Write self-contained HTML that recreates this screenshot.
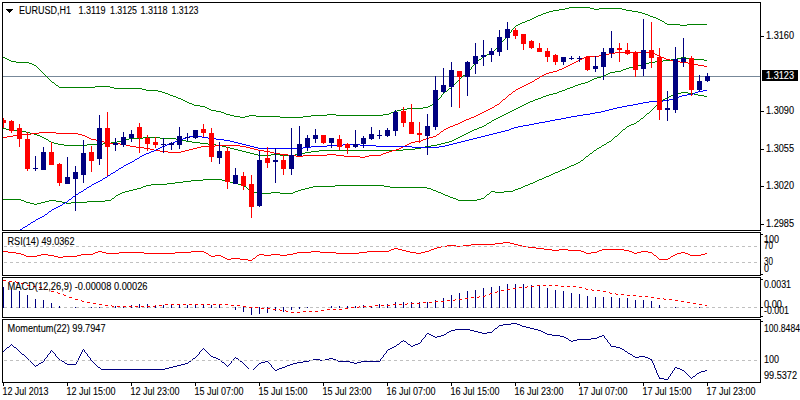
<!DOCTYPE html>
<html><head><meta charset="utf-8"><style>
html,body{margin:0;padding:0;background:#fff;overflow:hidden;}
svg{display:block;}
text{font-family:"Liberation Sans",sans-serif;}
</style></head><body>
<svg width="800" height="400" viewBox="0 0 800 400" shape-rendering="crispEdges">
<svg x="0" y="0" width="800" height="400">
<clipPath id="cm"><rect x="3" y="3" width="757" height="227"/></clipPath>
<g clip-path="url(#cm)">
<line x1="3" y1="76.5" x2="760" y2="76.5" stroke="#778899"/>
<path d="M240 117.5h5M280 117.5h23M224 113.5h2M389 113.5h2M56 85.5h2M142 89.5h4M95 86.5h15M518 24.5h2M667 24.5h13M687 24.5h20M532 18.5h2M656 18.5h2M158 91.5h4M445 91.5h2M569 7.5h21M114 88.5h28M449 88.5h2M553 10.5h6M626 10.5h6M546 12.5h3M638 12.5h4M234 116.5h6M245 116.5h4M256 116.5h24M303 116.5h8M59 87.5h36M110 87.5h4M146 90.5h12M194 105.5h6M430 105.5h2M207 108.5h2M407 108.5h16M485 55.5h2M216 111.5h5M394 111.5h3M230 115.5h4M249 115.5h7M311 115.5h16M336 115.5h47M34 65.5h2M221 112.5h3M391 112.5h3M527 20.5h3M660 20.5h2M16 62.5h13M189 103.5h3M434 103.5h2M522 22.5h3M29 63.5h3M565 8.5h4M590 8.5h4M599 8.5h23M549 11.5h4M632 11.5h6M32 64.5h2M516 25.5h2M680 25.5h7M209 109.5h2M401 109.5h6M559 9.5h6M594 9.5h5M622 9.5h4M226 114.5h4M327 114.5h9M383 114.5h6M200 106.5h5M428 106.5h2M487 54.5h3M173 96.5h3M538 15.5h3M648 15.5h2M463 75.5h2M162 92.5h3M205 107.5h2M423 107.5h5M543 13.5h3M642 13.5h3M483 56.5h2M170 95.5h3M211 110.5h5M397 110.5h4M192 104.5h2M432 104.5h2M5 58.5h2M525 21.5h2M662 21.5h2M534 17.5h2M653 17.5h3M185 101.5h2M176 97.5h2M178 98.5h3M530 19.5h2M658 19.5h2M181 99.5h2M11 61.5h5M3 57.5h2M165 93.5h3M520 23.5h2M665 23.5h2M490 53.5h2M7 59.5h2M479 59.5h2M536 16.5h2M650 16.5h3M541 14.5h2M645 14.5h3M9 60.5h2M52 82.5h2M168 94.5h2M187 102.5h2M183 100.5h2M501.5 42v2M503.5 40v1M504.5 39v1M506.5 36v1M453.5 85v1M461.5 77v1M55.5 84v1M500.5 44v1M502.5 41v1M58.5 86v1M447.5 90v1M498.5 46v1M514.5 27v1M510.5 32v1M512.5 29v1M513.5 28v1M40.5 70v1M36.5 66v1M508.5 34v1M511.5 30v2M471.5 67v2M494.5 50v1M467.5 72v1M468.5 71v1M37.5 67v1M54.5 83v1M47.5 77v1M465.5 74v1M466.5 73v1M436.5 102v1M43.5 73v1M38.5 68v1M39.5 69v1M451.5 87v1M459.5 79v1M457.5 81v1M44.5 74v1M496.5 48v1M497.5 47v1M472.5 66v1M45.5 75v1M495.5 49v1M41.5 71v1M51.5 81v1M441.5 95v2M477.5 61v1M478.5 60v1M437.5 100v2M440.5 97v1M42.5 72v1M505.5 37v2M460.5 78v1M48.5 78v1M458.5 80v1M456.5 82v1M49.5 79v1M444.5 92v1M50.5 80v1M46.5 76v1M482.5 57v1M448.5 89v1M454.5 84v1M443.5 93v1M493.5 51v1M515.5 26v1M481.5 58v1M452.5 86v1M439.5 98v1M476.5 62v1M442.5 94v1M492.5 52v1M499.5 45v1M438.5 99v1M474.5 64v1M475.5 63v1M470.5 69v1M473.5 65v1M469.5 70v1M509.5 33v1M507.5 35v1M455.5 83v1M664.5 22v1M462.5 76v1" fill="none" stroke="#008000" stroke-width="1"/>
<path d="M258 155.5h13M280 155.5h15M54 143.5h4M103 143.5h8M200 143.5h8M441 143.5h4M482 126.5h2M677 58.5h4M686 58.5h4M3 128.5h3M477 128.5h2M51 142.5h3M111 142.5h6M192 142.5h8M445 142.5h4M58 144.5h6M87 144.5h16M208 144.5h8M437 144.5h4M242 151.5h4M311 151.5h8M44 138.5h2M129 138.5h14M160 138.5h16M456 138.5h2M238 150.5h4M319 150.5h84M254 154.5h4M271 154.5h9M295 154.5h6M230 148.5h4M415 148.5h6M42 137.5h2M143 137.5h17M458 137.5h2M538 98.5h3M594 78.5h3M46 139.5h2M125 139.5h4M176 139.5h6M454 139.5h2M37 135.5h3M462 135.5h2M570 87.5h3M6 129.5h4M474 129.5h3M64 145.5h23M216 145.5h6M431 145.5h6M10 130.5h12M472 130.5h2M514 109.5h2M40 136.5h2M460 136.5h2M578 84.5h3M49 141.5h2M117 141.5h4M186 141.5h6M449 141.5h3M250 153.5h4M301 153.5h4M234 149.5h4M403 149.5h12M549 94.5h4M22 131.5h4M470 131.5h2M671 59.5h6M690 59.5h14M520 106.5h2M226 147.5h4M421 147.5h4M528 102.5h2M246 152.5h4M305 152.5h6M615 71.5h6M633 66.5h4M524 104.5h2M567 88.5h3M496 118.5h2M590 80.5h2M562 90.5h3M623 69.5h3M26 132.5h4M468 132.5h2M573 86.5h2M601 76.5h3M681 57.5h5M516 108.5h2M222 146.5h4M425 146.5h6M655 61.5h8M585 82.5h3M535 99.5h3M492 120.5h2M479 127.5h3M484 125.5h2M641 64.5h4M565 89.5h2M121 140.5h4M182 140.5h4M452 140.5h2M512 110.5h2M649 62.5h6M546 95.5h3M629 67.5h4M663 60.5h8M704 60.5h3M526 103.5h2M30 133.5h4M466 133.5h2M530 101.5h3M553 93.5h4M489 122.5h2M608 73.5h2M522 105.5h2M575 85.5h3M592 79.5h2M559 91.5h3M508 112.5h2M621 70.5h2M504 114.5h2M581 83.5h4M645 63.5h4M626 68.5h3M604 75.5h2M518 107.5h2M588 81.5h2M487 123.5h2M34 134.5h3M464 134.5h2M500 116.5h2M543 96.5h3M506 113.5h2M597 77.5h4M610 72.5h5M510 111.5h2M533 100.5h2M557 92.5h2M502 115.5h2M606 74.5h2M637 65.5h4M498 117.5h2M541 97.5h2M494 119.5h2M491.5 121v1M48.5 140v1M486.5 124v1" fill="none" stroke="#008000" stroke-width="1"/>
<path d="M151 184.5h16M238 184.5h4M528 184.5h2M30 203.5h4M37 203.5h4M66 203.5h5M21 200.5h3M49 200.5h7M105 200.5h6M458 200.5h19M143 186.5h3M244 186.5h2M313 186.5h22M384 186.5h6M523 186.5h2M146 185.5h5M242 185.5h2M335 185.5h49M525 185.5h3M203 179.5h19M539 179.5h3M450 197.5h3M602 145.5h2M141 187.5h2M309 187.5h4M390 187.5h37M521 187.5h2M191 180.5h12M222 180.5h4M537 180.5h2M26 202.5h4M41 202.5h4M62 202.5h4M71 202.5h16M122 192.5h3M254 192.5h4M271 192.5h9M293 192.5h2M438 192.5h3M495 192.5h9M549 175.5h2M24 201.5h2M45 201.5h4M56 201.5h6M87 201.5h18M3 199.5h18M456 199.5h2M477 199.5h4M674 94.5h3M694 94.5h4M665 98.5h2M118 194.5h2M443 194.5h2M487 194.5h2M34 204.5h3M167 183.5h8M234 183.5h4M530 183.5h3M560 170.5h2M681 92.5h7M637 121.5h2M594 150.5h2M448 196.5h2M607 142.5h2M120 193.5h2M258 193.5h13M280 193.5h13M441 193.5h2M641 118.5h2M175 182.5h8M230 182.5h4M533 182.5h2M599 147.5h2M634 123.5h2M133 189.5h4M248 189.5h2M301 189.5h4M431 189.5h2M515 189.5h3M129 190.5h4M298 190.5h3M433 190.5h3M513 190.5h2M183 181.5h8M226 181.5h4M535 181.5h2M551 174.5h2M555 172.5h3M137 188.5h4M305 188.5h4M427 188.5h4M518 188.5h3M125 191.5h4M251 191.5h3M295 191.5h3M436 191.5h2M491 191.5h4M504 191.5h9M671 95.5h3M698 95.5h6M629 125.5h2M576 163.5h2M677 93.5h4M688 93.5h6M581 160.5h2M546 176.5h3M567 167.5h2M667 97.5h2M562 169.5h3M116 195.5h2M445 195.5h3M571 165.5h3M631 124.5h3M578 162.5h2M647 113.5h2M544 177.5h2M669 96.5h2M704 96.5h3M663 99.5h2M558 171.5h2M112 198.5h2M453 198.5h3M481 198.5h3M660 101.5h2M597 148.5h2M627 126.5h2M574 164.5h2M586 156.5h2M569 166.5h2M590 153.5h2M565 168.5h2M615 136.5h2M604 144.5h2M542 178.5h2M623 129.5h2M609 141.5h2M553 173.5h2M658.5 103v1M612.5 139v1M613.5 138v1M657.5 104v1M662.5 100v1M644.5 116v1M618.5 134v1M649.5 112v1M111.5 199v1M617.5 135v1M490.5 192v1M639.5 120v1M596.5 149v1M643.5 117v1M611.5 140v1M650.5 111v1M484.5 197v1M485.5 196v1M114.5 197v1M115.5 196v1M489.5 193v1M655.5 106v1M656.5 105v1M580.5 161v1M654.5 107v1M585.5 157v1M622.5 130v1M653.5 108v1M606.5 143v1M621.5 131v1M636.5 122v1M626.5 127v1M583.5 159v1M246.5 187v1M584.5 158v1M589.5 154v1M651.5 110v1M620.5 132v1M588.5 155v1M593.5 151v1M619.5 133v1M652.5 109v1M640.5 119v1M625.5 128v1M601.5 146v1M614.5 137v1M659.5 102v1M645.5 115v1M646.5 114v1M247.5 188v1M486.5 195v1M250.5 190v1M592.5 152v1" fill="none" stroke="#008000" stroke-width="1"/>
<path d="M288 155.5h8M303 155.5h24M336 155.5h8M369 155.5h12M106 143.5h14M409 143.5h2M574 62.5h2M680 62.5h8M91 139.5h5M423 139.5h3M150 149.5h4M189 149.5h4M254 149.5h4M396 149.5h3M31 133.5h8M56 133.5h22M582 58.5h2M664 58.5h2M615 52.5h38M605 54.5h4M655 54.5h2M3 137.5h4M87 137.5h2M429 137.5h4M570 64.5h2M694 64.5h4M296 156.5h7M344 156.5h16M365 156.5h4M466 119.5h3M168 152.5h13M270 152.5h4M386 152.5h3M509 94.5h2M96 140.5h5M421 140.5h2M549 72.5h4M160 151.5h8M181 151.5h4M264 151.5h6M389 151.5h3M280 154.5h8M327 154.5h9M381 154.5h2M126 145.5h4M215 145.5h25M405 145.5h2M136 147.5h8M197 147.5h4M246 147.5h4M401 147.5h2M13 135.5h4M82 135.5h3M522 86.5h2M144 148.5h6M193 148.5h4M250 148.5h4M399 148.5h2M130 146.5h6M201 146.5h14M240 146.5h6M403 146.5h2M17 134.5h14M78 134.5h4M437 134.5h2M513 91.5h2M39 132.5h17M448 127.5h2M576 61.5h2M674 61.5h6M482 112.5h2M101 141.5h3M415 141.5h6M518 88.5h2M557 70.5h2M503 99.5h2M562 68.5h2M540 76.5h2M458 123.5h2M586 56.5h13M659 56.5h2M568 65.5h2M698 65.5h6M532 81.5h2M578 60.5h2M670 60.5h4M537 78.5h2M566 66.5h2M704 66.5h3M599 55.5h6M657 55.5h2M154 150.5h6M185 150.5h4M258 150.5h6M392 150.5h4M104 142.5h2M411 142.5h4M444 129.5h2M360 157.5h5M478 114.5h2M609 53.5h6M653 53.5h2M497 104.5h2M520 87.5h2M120 144.5h6M407 144.5h2M89 138.5h2M426 138.5h3M572 63.5h2M688 63.5h6M528 83.5h2M524 85.5h2M469 118.5h2M274 153.5h6M383 153.5h3M546 73.5h3M480 113.5h2M484 111.5h2M516 89.5h2M559 69.5h3M455 124.5h3M7 136.5h6M85 136.5h2M433 136.5h3M542 75.5h2M584 57.5h2M661 57.5h3M476 115.5h2M553 71.5h4M471 117.5h3M450 126.5h3M526 84.5h2M530 82.5h2M535 79.5h2M462 121.5h2M453 125.5h2M495 105.5h2M580 59.5h2M666 59.5h4M492 107.5h2M474 116.5h2M488 109.5h2M464 120.5h2M441 131.5h2M564 67.5h2M490 108.5h2M460 122.5h2M544 74.5h2M446 128.5h2M486 110.5h2M539.5 77v1M501.5 101v1M506.5 97v1M499.5 103v1M443.5 130v1M440.5 132v1M502.5 100v1M511.5 93v1M494.5 106v1M534.5 80v1M500.5 102v1M436.5 135v1M515.5 90v1M507.5 96v1M512.5 92v1M439.5 133v1M505.5 98v1M508.5 95v1" fill="none" stroke="#ff0000" stroke-width="1"/>
<path d="M162 146.5h3M250 146.5h4M311 146.5h16M376 146.5h36M439 146.5h6M165 145.5h2M246 145.5h4M327 145.5h16M360 145.5h16M445 145.5h4M167 144.5h3M242 144.5h4M343 144.5h17M449 144.5h4M160 147.5h2M254 147.5h4M303 147.5h8M412 147.5h27M178 140.5h3M224 140.5h6M465 140.5h4M643 102.5h6M128 163.5h2M170 143.5h3M238 143.5h4M453 143.5h4M119 168.5h2M509 129.5h2M193 135.5h5M485 135.5h4M561 118.5h5M31 222.5h2M158 148.5h2M258 148.5h45M622 106.5h5M23 227.5h2M36 219.5h2M183 138.5h3M208 138.5h8M473 138.5h4M555 119.5h6M28 224.5h2M627 105.5h6M514 127.5h4M146 153.5h3M497 132.5h4M649 101.5h14M534 123.5h5M181 139.5h2M216 139.5h8M469 139.5h4M73 196.5h2M609 109.5h4M539 122.5h6M111 173.5h2M669 99.5h4M103 178.5h2M189 136.5h4M198 136.5h4M481 136.5h4M124 165.5h2M617 107.5h5M116 170.5h2M577 115.5h6M595 112.5h6M108 175.5h2M20 229.5h2M583 114.5h7M45 214.5h2M698 91.5h5M25 226.5h2M58 206.5h2M142 155.5h2M679 96.5h3M49 211.5h2M42 216.5h2M54 208.5h2M590 113.5h5M687 94.5h6M100 180.5h2M571 116.5h6M79 192.5h2M175 141.5h3M230 141.5h4M461 141.5h4M523 125.5h6M186 137.5h3M202 137.5h6M477 137.5h4M505 130.5h4M633 104.5h5M695 92.5h3M529 124.5h5M33 221.5h2M613 108.5h4M130 162.5h2M173 142.5h2M234 142.5h4M457 142.5h4M38 218.5h2M511 128.5h3M493 133.5h4M135 159.5h2M126 164.5h2M638 103.5h5M663 100.5h6M601 111.5h4M96 182.5h2M56 207.5h2M87 187.5h2M76 194.5h2M518 126.5h5M154 150.5h2M92 184.5h2M60 205.5h2M682 95.5h5M545 121.5h5M144 154.5h2M566 117.5h5M52 209.5h2M84 189.5h2M149 152.5h2M65 202.5h2M703 90.5h4M156 149.5h2M94 183.5h2M501 131.5h4M98 181.5h2M140 156.5h2M693 93.5h2M132 161.5h2M489 134.5h4M137 158.5h2M673 98.5h4M40 217.5h2M151 151.5h3M605 110.5h4M550 120.5h5M63 203.5h2M121 167.5h2M113 172.5h2M677 97.5h2M105 177.5h2M89 186.5h2M69 199.5h2M81 191.5h2M30.5 223v1M78.5 193v1M139.5 157v1M68.5 200v1M44.5 215v1M72.5 197v1M48.5 212v1M107.5 176v1M67.5 201v1M123.5 166v1M115.5 171v1M134.5 160v1M47.5 213v1M51.5 210v1M110.5 174v1M71.5 198v1M27.5 225v1M102.5 179v1M118.5 169v1M19.5 230v1M35.5 220v1M62.5 204v1M91.5 185v1M83.5 190v1M75.5 195v1M22.5 228v1M86.5 188v1" fill="none" stroke="#0000ff" stroke-width="1"/>
<rect x="3" y="118.0" width="1" height="10.0" fill="#ff0000"/>
<rect x="1" y="120.0" width="5" height="3.0" fill="#ff0000"/>
<rect x="11" y="120.0" width="1" height="13.0" fill="#ff0000"/>
<rect x="9" y="121.0" width="5" height="10.0" fill="#ff0000"/>
<rect x="19" y="124.0" width="1" height="23.0" fill="#ff0000"/>
<rect x="17" y="128.0" width="5" height="11.0" fill="#ff0000"/>
<rect x="27" y="132.0" width="1" height="39.0" fill="#ff0000"/>
<rect x="25" y="139.0" width="5" height="30.0" fill="#ff0000"/>
<rect x="35" y="156.0" width="1" height="15.0" fill="#000080"/>
<rect x="33" y="168.0" width="5" height="1.0" fill="#000080"/>
<rect x="43" y="147.0" width="1" height="23.0" fill="#000080"/>
<rect x="41" y="152.0" width="5" height="18.0" fill="#000080"/>
<rect x="51" y="142.0" width="1" height="23.0" fill="#ff0000"/>
<rect x="49" y="152.0" width="5" height="13.0" fill="#ff0000"/>
<rect x="59" y="163.0" width="1" height="23.0" fill="#ff0000"/>
<rect x="57" y="164.0" width="5" height="19.0" fill="#ff0000"/>
<rect x="67" y="157.0" width="1" height="27.0" fill="#000080"/>
<rect x="65" y="177.0" width="5" height="7.0" fill="#000080"/>
<rect x="75" y="166.0" width="1" height="45.0" fill="#000080"/>
<rect x="73" y="172.0" width="5" height="7.0" fill="#000080"/>
<rect x="83" y="140.0" width="1" height="43.0" fill="#000080"/>
<rect x="81" y="153.0" width="5" height="22.0" fill="#000080"/>
<rect x="91" y="146.0" width="1" height="26.0" fill="#ff0000"/>
<rect x="89" y="152.0" width="5" height="9.0" fill="#ff0000"/>
<rect x="99" y="115.0" width="1" height="50.0" fill="#000080"/>
<rect x="97" y="128.0" width="5" height="31.0" fill="#000080"/>
<rect x="107" y="112.0" width="1" height="64.0" fill="#ff0000"/>
<rect x="105" y="128.0" width="5" height="19.0" fill="#ff0000"/>
<rect x="115" y="138.0" width="1" height="13.0" fill="#000080"/>
<rect x="113" y="143.0" width="5" height="2.0" fill="#000080"/>
<rect x="123" y="132.0" width="1" height="15.0" fill="#000080"/>
<rect x="121" y="137.0" width="5" height="8.0" fill="#000080"/>
<rect x="131" y="130.0" width="1" height="12.0" fill="#000080"/>
<rect x="129" y="134.0" width="5" height="4.0" fill="#000080"/>
<rect x="139" y="123.0" width="1" height="30.0" fill="#ff0000"/>
<rect x="137" y="127.0" width="5" height="11.0" fill="#ff0000"/>
<rect x="147" y="135.0" width="1" height="16.0" fill="#ff0000"/>
<rect x="145" y="138.0" width="5" height="6.0" fill="#ff0000"/>
<rect x="155" y="137.0" width="1" height="11.0" fill="#ff0000"/>
<rect x="153" y="142.0" width="5" height="3.0" fill="#ff0000"/>
<rect x="163" y="138.0" width="1" height="15.0" fill="#000080"/>
<rect x="161" y="144.0" width="5" height="1.0" fill="#000080"/>
<rect x="171" y="142.0" width="1" height="8.0" fill="#000080"/>
<rect x="169" y="143.0" width="5" height="2.0" fill="#000080"/>
<rect x="179" y="127.0" width="1" height="22.0" fill="#000080"/>
<rect x="177" y="136.0" width="5" height="9.0" fill="#000080"/>
<rect x="187" y="133.0" width="1" height="8.0" fill="#000080"/>
<rect x="185" y="137.0" width="5" height="1.0" fill="#000080"/>
<rect x="195" y="130.0" width="1" height="9.0" fill="#000080"/>
<rect x="193" y="130.0" width="5" height="8.0" fill="#000080"/>
<rect x="203" y="124.0" width="1" height="13.0" fill="#ff0000"/>
<rect x="201" y="129.0" width="5" height="4.0" fill="#ff0000"/>
<rect x="211" y="128.0" width="1" height="34.0" fill="#ff0000"/>
<rect x="209" y="133.0" width="5" height="24.0" fill="#ff0000"/>
<rect x="219" y="142.0" width="1" height="22.0" fill="#000080"/>
<rect x="217" y="151.0" width="5" height="7.0" fill="#000080"/>
<rect x="227" y="147.0" width="1" height="42.0" fill="#ff0000"/>
<rect x="225" y="151.0" width="5" height="31.0" fill="#ff0000"/>
<rect x="235" y="168.0" width="1" height="16.0" fill="#000080"/>
<rect x="233" y="175.0" width="5" height="9.0" fill="#000080"/>
<rect x="243" y="172.0" width="1" height="18.0" fill="#ff0000"/>
<rect x="241" y="176.0" width="5" height="10.0" fill="#ff0000"/>
<rect x="251" y="175.0" width="1" height="43.0" fill="#ff0000"/>
<rect x="249" y="184.0" width="5" height="23.0" fill="#ff0000"/>
<rect x="259" y="151.0" width="1" height="56.0" fill="#000080"/>
<rect x="257" y="160.0" width="5" height="46.0" fill="#000080"/>
<rect x="267" y="147.0" width="1" height="21.0" fill="#ff0000"/>
<rect x="265" y="158.0" width="5" height="5.0" fill="#ff0000"/>
<rect x="275" y="148.0" width="1" height="35.0" fill="#000080"/>
<rect x="273" y="160.0" width="5" height="2.0" fill="#000080"/>
<rect x="283" y="155.0" width="1" height="20.0" fill="#ff0000"/>
<rect x="281" y="160.0" width="5" height="9.0" fill="#ff0000"/>
<rect x="291" y="128.0" width="1" height="47.0" fill="#000080"/>
<rect x="289" y="155.0" width="5" height="14.0" fill="#000080"/>
<rect x="299" y="126.0" width="1" height="30.0" fill="#000080"/>
<rect x="297" y="144.0" width="5" height="12.0" fill="#000080"/>
<rect x="307" y="135.0" width="1" height="16.0" fill="#000080"/>
<rect x="305" y="138.0" width="5" height="9.0" fill="#000080"/>
<rect x="315" y="129.0" width="1" height="14.0" fill="#000080"/>
<rect x="313" y="135.0" width="5" height="4.0" fill="#000080"/>
<rect x="323" y="135.0" width="1" height="9.0" fill="#ff0000"/>
<rect x="321" y="135.0" width="5" height="8.0" fill="#ff0000"/>
<rect x="331" y="138.0" width="1" height="10.0" fill="#000080"/>
<rect x="329" y="138.0" width="5" height="5.0" fill="#000080"/>
<rect x="339" y="135.0" width="1" height="15.0" fill="#ff0000"/>
<rect x="337" y="139.0" width="5" height="8.0" fill="#ff0000"/>
<rect x="347" y="143.0" width="1" height="11.0" fill="#ff0000"/>
<rect x="345" y="144.0" width="5" height="4.0" fill="#ff0000"/>
<rect x="355" y="130.0" width="1" height="18.0" fill="#000080"/>
<rect x="353" y="144.0" width="5" height="3.0" fill="#000080"/>
<rect x="363" y="136.0" width="1" height="12.0" fill="#000080"/>
<rect x="361" y="138.0" width="5" height="6.0" fill="#000080"/>
<rect x="371" y="127.0" width="1" height="13.0" fill="#000080"/>
<rect x="369" y="134.0" width="5" height="5.0" fill="#000080"/>
<rect x="379" y="130.0" width="1" height="9.0" fill="#000080"/>
<rect x="377" y="135.0" width="5" height="1.0" fill="#000080"/>
<rect x="387" y="128.0" width="1" height="9.0" fill="#000080"/>
<rect x="385" y="130.0" width="5" height="6.0" fill="#000080"/>
<rect x="395" y="110.0" width="1" height="26.0" fill="#000080"/>
<rect x="393" y="112.0" width="5" height="19.0" fill="#000080"/>
<rect x="403" y="107.0" width="1" height="20.0" fill="#ff0000"/>
<rect x="401" y="111.0" width="5" height="12.0" fill="#ff0000"/>
<rect x="411" y="104.0" width="1" height="30.0" fill="#ff0000"/>
<rect x="409" y="122.0" width="5" height="12.0" fill="#ff0000"/>
<rect x="419" y="122.0" width="1" height="21.0" fill="#ff0000"/>
<rect x="417" y="133.0" width="5" height="2.0" fill="#ff0000"/>
<rect x="427" y="114.0" width="1" height="41.0" fill="#000080"/>
<rect x="425" y="126.0" width="5" height="10.0" fill="#000080"/>
<rect x="435" y="76.0" width="1" height="54.0" fill="#000080"/>
<rect x="433" y="90.0" width="5" height="37.0" fill="#000080"/>
<rect x="443" y="68.0" width="1" height="25.0" fill="#000080"/>
<rect x="441" y="85.0" width="5" height="7.0" fill="#000080"/>
<rect x="451" y="62.0" width="1" height="45.0" fill="#000080"/>
<rect x="449" y="70.0" width="5" height="17.0" fill="#000080"/>
<rect x="459" y="71.0" width="1" height="37.0" fill="#ff0000"/>
<rect x="457" y="71.0" width="5" height="6.0" fill="#ff0000"/>
<rect x="467" y="61.0" width="1" height="35.0" fill="#000080"/>
<rect x="465" y="62.0" width="5" height="15.0" fill="#000080"/>
<rect x="475" y="43.0" width="1" height="31.0" fill="#000080"/>
<rect x="473" y="56.0" width="5" height="8.0" fill="#000080"/>
<rect x="483" y="40.0" width="1" height="26.0" fill="#000080"/>
<rect x="481" y="55.0" width="5" height="2.0" fill="#000080"/>
<rect x="491" y="48.0" width="1" height="14.0" fill="#000080"/>
<rect x="489" y="51.0" width="5" height="4.0" fill="#000080"/>
<rect x="499" y="30.0" width="1" height="26.0" fill="#000080"/>
<rect x="497" y="37.0" width="5" height="15.0" fill="#000080"/>
<rect x="507" y="22.0" width="1" height="28.0" fill="#000080"/>
<rect x="505" y="29.0" width="5" height="9.0" fill="#000080"/>
<rect x="515" y="28.0" width="1" height="11.0" fill="#ff0000"/>
<rect x="513" y="30.0" width="5" height="6.0" fill="#ff0000"/>
<rect x="523" y="34.0" width="1" height="16.0" fill="#ff0000"/>
<rect x="521" y="34.0" width="5" height="10.0" fill="#ff0000"/>
<rect x="531" y="40.0" width="1" height="9.0" fill="#ff0000"/>
<rect x="529" y="41.0" width="5" height="7.0" fill="#ff0000"/>
<rect x="539" y="43.0" width="1" height="9.0" fill="#ff0000"/>
<rect x="537" y="48.0" width="5" height="4.0" fill="#ff0000"/>
<rect x="547" y="48.0" width="1" height="14.0" fill="#ff0000"/>
<rect x="545" y="51.0" width="5" height="6.0" fill="#ff0000"/>
<rect x="555" y="54.0" width="1" height="11.0" fill="#ff0000"/>
<rect x="553" y="55.0" width="5" height="7.0" fill="#ff0000"/>
<rect x="563" y="57.0" width="1" height="8.0" fill="#000080"/>
<rect x="561" y="57.0" width="5" height="5.0" fill="#000080"/>
<rect x="571" y="56.0" width="1" height="4.0" fill="#000080"/>
<rect x="569" y="58.0" width="5" height="1.0" fill="#000080"/>
<rect x="579" y="56.0" width="1" height="6.0" fill="#000080"/>
<rect x="577" y="58.0" width="5" height="1.0" fill="#000080"/>
<rect x="587" y="57.0" width="1" height="14.0" fill="#ff0000"/>
<rect x="585" y="57.0" width="5" height="13.0" fill="#ff0000"/>
<rect x="595" y="56.0" width="1" height="16.0" fill="#000080"/>
<rect x="593" y="66.0" width="5" height="3.0" fill="#000080"/>
<rect x="603" y="48.0" width="1" height="32.0" fill="#000080"/>
<rect x="601" y="52.0" width="5" height="15.0" fill="#000080"/>
<rect x="611" y="31.0" width="1" height="27.0" fill="#000080"/>
<rect x="609" y="48.0" width="5" height="5.0" fill="#000080"/>
<rect x="619" y="43.0" width="1" height="19.0" fill="#ff0000"/>
<rect x="617" y="48.0" width="5" height="2.0" fill="#ff0000"/>
<rect x="627" y="43.0" width="1" height="12.0" fill="#ff0000"/>
<rect x="625" y="50.0" width="5" height="4.0" fill="#ff0000"/>
<rect x="635" y="51.0" width="1" height="26.0" fill="#ff0000"/>
<rect x="633" y="52.0" width="5" height="18.0" fill="#ff0000"/>
<rect x="643" y="19.0" width="1" height="57.0" fill="#000080"/>
<rect x="641" y="50.0" width="5" height="19.0" fill="#000080"/>
<rect x="651" y="22.0" width="1" height="46.0" fill="#ff0000"/>
<rect x="649" y="50.0" width="5" height="8.0" fill="#ff0000"/>
<rect x="659" y="48.0" width="1" height="72.0" fill="#ff0000"/>
<rect x="657" y="57.0" width="5" height="53.0" fill="#ff0000"/>
<rect x="667" y="91.0" width="1" height="30.0" fill="#000080"/>
<rect x="665" y="108.0" width="5" height="2.0" fill="#000080"/>
<rect x="675" y="47.0" width="1" height="66.0" fill="#000080"/>
<rect x="673" y="59.0" width="5" height="51.0" fill="#000080"/>
<rect x="683" y="38.0" width="1" height="29.0" fill="#000080"/>
<rect x="681" y="58.0" width="5" height="4.0" fill="#000080"/>
<rect x="691" y="56.0" width="1" height="40.0" fill="#ff0000"/>
<rect x="689" y="58.0" width="5" height="32.0" fill="#ff0000"/>
<rect x="699" y="75.0" width="1" height="16.0" fill="#000080"/>
<rect x="697" y="81.0" width="5" height="9.0" fill="#000080"/>
<rect x="707" y="73.0" width="1" height="9.0" fill="#000080"/>
<rect x="705" y="76.0" width="5" height="5.0" fill="#000080"/>
</g>
<clipPath id="cr"><rect x="3" y="233" width="757" height="42"/></clipPath>
<g clip-path="url(#cr)">
<path d="M8 252.5h8M95 252.5h3M102 252.5h4M119 252.5h25M175 252.5h16M204 252.5h2M297 252.5h14M320 252.5h16M359 252.5h8M410 252.5h6M421 252.5h4M584 252.5h2M591 252.5h6M632 252.5h2M637 252.5h4M648 252.5h4M681 252.5h4M24 255.5h2M37 255.5h4M48 255.5h6M77 255.5h4M209 255.5h2M215 255.5h6M257 255.5h2M264 255.5h7M280 255.5h7M654 255.5h2M673 255.5h2M690 255.5h11M391 249.5h3M398 249.5h4M431 249.5h3M544 249.5h8M559 249.5h9M602 249.5h22M3 251.5h5M98 251.5h4M191 251.5h13M311 251.5h9M367 251.5h22M406 251.5h4M425 251.5h4M581 251.5h3M597 251.5h2M629 251.5h3M641 251.5h7M248 260.5h4M437 247.5h4M528 247.5h8M58 257.5h5M223 257.5h2M495 243.5h8M510 243.5h4M16 253.5h5M93 253.5h2M106 253.5h13M144 253.5h31M206 253.5h2M293 253.5h4M336 253.5h23M416 253.5h5M586 253.5h5M634 253.5h3M677 253.5h4M685 253.5h3M705 253.5h2M441 246.5h6M456 246.5h7M522 246.5h6M389 250.5h2M402 250.5h4M429 250.5h2M552 250.5h7M568 250.5h13M599 250.5h3M624 250.5h5M26 256.5h11M54 256.5h4M63 256.5h14M211 256.5h4M221 256.5h2M671 256.5h2M227 259.5h4M240 259.5h8M659 259.5h9M471 244.5h24M514 244.5h4M21 254.5h3M41 254.5h7M81 254.5h12M259 254.5h5M271 254.5h9M287 254.5h6M675 254.5h2M688 254.5h2M701 254.5h4M394 248.5h4M434 248.5h3M536 248.5h8M447 245.5h9M463 245.5h8M518 245.5h4M225 258.5h2M231 258.5h9M253 258.5h2M668 258.5h2M503 242.5h7M658.5 258v1M255.5 257v1M208.5 254v1M252.5 259v1M670.5 257v1M653.5 254v1M656.5 256v1M652.5 253v1M657.5 257v1M256.5 256v1" fill="none" stroke="#ff0000" stroke-width="1"/>
<path d="M4 246.5h3M10 246.5h3M16 246.5h3M22 246.5h3M28 246.5h3M34 246.5h3M40 246.5h3M46 246.5h3M52 246.5h3M58 246.5h3M64 246.5h3M70 246.5h3M76 246.5h3M82 246.5h3M88 246.5h3M94 246.5h3M100 246.5h3M106 246.5h3M112 246.5h3M118 246.5h3M124 246.5h3M130 246.5h3M136 246.5h3M142 246.5h3M148 246.5h3M154 246.5h3M160 246.5h3M166 246.5h3M172 246.5h3M178 246.5h3M184 246.5h3M190 246.5h3M196 246.5h3M202 246.5h3M208 246.5h3M214 246.5h3M220 246.5h3M226 246.5h3M232 246.5h3M238 246.5h3M244 246.5h3M250 246.5h3M256 246.5h3M262 246.5h3M268 246.5h3M274 246.5h3M280 246.5h3M286 246.5h3M292 246.5h3M298 246.5h3M304 246.5h3M310 246.5h3M316 246.5h3M322 246.5h3M328 246.5h3M334 246.5h3M340 246.5h3M346 246.5h3M352 246.5h3M358 246.5h3M364 246.5h3M370 246.5h3M376 246.5h3M382 246.5h3M388 246.5h3M394 246.5h3M400 246.5h3M406 246.5h3M412 246.5h3M418 246.5h3M424 246.5h3M430 246.5h3M436 246.5h3M442 246.5h3M448 246.5h3M454 246.5h3M460 246.5h3M466 246.5h3M472 246.5h3M478 246.5h3M484 246.5h3M490 246.5h3M496 246.5h3M502 246.5h3M508 246.5h3M514 246.5h3M520 246.5h3M526 246.5h3M532 246.5h3M538 246.5h3M544 246.5h3M550 246.5h3M556 246.5h3M562 246.5h3M568 246.5h3M574 246.5h3M580 246.5h3M586 246.5h3M592 246.5h3M598 246.5h3M604 246.5h3M610 246.5h3M616 246.5h3M622 246.5h3M628 246.5h3M634 246.5h3M640 246.5h3M646 246.5h3M652 246.5h3M658 246.5h3M664 246.5h3M670 246.5h3M676 246.5h3M682 246.5h3M688 246.5h3M694 246.5h3M700 246.5h3M706 246.5h3M712 246.5h3M718 246.5h3M724 246.5h3M730 246.5h3M736 246.5h3M742 246.5h3M748 246.5h3M754 246.5h3" fill="none" stroke="#c0c0c0" stroke-width="1"/>
<path d="M4 262.5h3M10 262.5h3M16 262.5h3M22 262.5h3M28 262.5h3M34 262.5h3M40 262.5h3M46 262.5h3M52 262.5h3M58 262.5h3M64 262.5h3M70 262.5h3M76 262.5h3M82 262.5h3M88 262.5h3M94 262.5h3M100 262.5h3M106 262.5h3M112 262.5h3M118 262.5h3M124 262.5h3M130 262.5h3M136 262.5h3M142 262.5h3M148 262.5h3M154 262.5h3M160 262.5h3M166 262.5h3M172 262.5h3M178 262.5h3M184 262.5h3M190 262.5h3M196 262.5h3M202 262.5h3M208 262.5h3M214 262.5h3M220 262.5h3M226 262.5h3M232 262.5h3M238 262.5h3M244 262.5h3M250 262.5h3M256 262.5h3M262 262.5h3M268 262.5h3M274 262.5h3M280 262.5h3M286 262.5h3M292 262.5h3M298 262.5h3M304 262.5h3M310 262.5h3M316 262.5h3M322 262.5h3M328 262.5h3M334 262.5h3M340 262.5h3M346 262.5h3M352 262.5h3M358 262.5h3M364 262.5h3M370 262.5h3M376 262.5h3M382 262.5h3M388 262.5h3M394 262.5h3M400 262.5h3M406 262.5h3M412 262.5h3M418 262.5h3M424 262.5h3M430 262.5h3M436 262.5h3M442 262.5h3M448 262.5h3M454 262.5h3M460 262.5h3M466 262.5h3M472 262.5h3M478 262.5h3M484 262.5h3M490 262.5h3M496 262.5h3M502 262.5h3M508 262.5h3M514 262.5h3M520 262.5h3M526 262.5h3M532 262.5h3M538 262.5h3M544 262.5h3M550 262.5h3M556 262.5h3M562 262.5h3M568 262.5h3M574 262.5h3M580 262.5h3M586 262.5h3M592 262.5h3M598 262.5h3M604 262.5h3M610 262.5h3M616 262.5h3M622 262.5h3M628 262.5h3M634 262.5h3M640 262.5h3M646 262.5h3M652 262.5h3M658 262.5h3M664 262.5h3M670 262.5h3M676 262.5h3M682 262.5h3M688 262.5h3M694 262.5h3M700 262.5h3M706 262.5h3M712 262.5h3M718 262.5h3M724 262.5h3M730 262.5h3M736 262.5h3M742 262.5h3M748 262.5h3M754 262.5h3" fill="none" stroke="#c0c0c0" stroke-width="1"/>
</g>
<clipPath id="cd"><rect x="3" y="278" width="757" height="39"/></clipPath>
<g clip-path="url(#cd)">
<path d="M4 307.5h3M10 307.5h3M16 307.5h3M22 307.5h3M28 307.5h3M34 307.5h3M40 307.5h3M46 307.5h3M52 307.5h3M58 307.5h3M64 307.5h3M70 307.5h3M76 307.5h3M82 307.5h3M88 307.5h3M94 307.5h3M100 307.5h3M106 307.5h3M112 307.5h3M118 307.5h3M124 307.5h3M130 307.5h3M136 307.5h3M142 307.5h3M148 307.5h3M154 307.5h3M160 307.5h3M166 307.5h3M172 307.5h3M178 307.5h3M184 307.5h3M190 307.5h3M196 307.5h3M202 307.5h3M208 307.5h3M214 307.5h3M220 307.5h3M226 307.5h3M232 307.5h3M238 307.5h3M244 307.5h3M250 307.5h3M256 307.5h3M262 307.5h3M268 307.5h3M274 307.5h3M280 307.5h3M286 307.5h3M292 307.5h3M298 307.5h3M304 307.5h3M310 307.5h3M316 307.5h3M322 307.5h3M328 307.5h3M334 307.5h3M340 307.5h3M346 307.5h3M352 307.5h3M358 307.5h3M364 307.5h3M370 307.5h3M376 307.5h3M382 307.5h3M388 307.5h3M394 307.5h3M400 307.5h3M406 307.5h3M412 307.5h3M418 307.5h3M424 307.5h3M430 307.5h3M436 307.5h3M442 307.5h3M448 307.5h3M454 307.5h3M460 307.5h3M466 307.5h3M472 307.5h3M478 307.5h3M484 307.5h3M490 307.5h3M496 307.5h3M502 307.5h3M508 307.5h3M514 307.5h3M520 307.5h3M526 307.5h3M532 307.5h3M538 307.5h3M544 307.5h3M550 307.5h3M556 307.5h3M562 307.5h3M568 307.5h3M574 307.5h3M580 307.5h3M586 307.5h3M592 307.5h3M598 307.5h3M604 307.5h3M610 307.5h3M616 307.5h3M622 307.5h3M628 307.5h3M634 307.5h3M640 307.5h3M646 307.5h3M652 307.5h3M658 307.5h3M664 307.5h3M670 307.5h3M676 307.5h3M682 307.5h3M688 307.5h3M694 307.5h3M700 307.5h3M706 307.5h3M712 307.5h3M718 307.5h3M724 307.5h3M730 307.5h3M736 307.5h3M742 307.5h3M748 307.5h3M754 307.5h3" fill="none" stroke="#c0c0c0" stroke-width="1"/>
<rect x="3" y="287.00" width="1" height="21.00" fill="#000080"/>
<rect x="11" y="288.60" width="1" height="19.40" fill="#000080"/>
<rect x="19" y="290.75" width="1" height="17.25" fill="#000080"/>
<rect x="27" y="294.90" width="1" height="13.10" fill="#000080"/>
<rect x="35" y="299.00" width="1" height="9.00" fill="#000080"/>
<rect x="43" y="299.90" width="1" height="8.10" fill="#000080"/>
<rect x="51" y="303.00" width="1" height="5.00" fill="#000080"/>
<rect x="59" y="305.75" width="1" height="2.25" fill="#000080"/>
<rect x="75" y="307.00" width="1" height="1.00" fill="#000080"/>
<rect x="91" y="307.00" width="1" height="1.00" fill="#000080"/>
<rect x="99" y="306.50" width="1" height="1.50" fill="#000080"/>
<rect x="115" y="305.75" width="1" height="2.25" fill="#000080"/>
<rect x="123" y="305.75" width="1" height="2.25" fill="#000080"/>
<rect x="131" y="305.00" width="1" height="3.00" fill="#000080"/>
<rect x="139" y="304.25" width="1" height="3.75" fill="#000080"/>
<rect x="147" y="304.25" width="1" height="3.75" fill="#000080"/>
<rect x="155" y="305.50" width="1" height="2.50" fill="#000080"/>
<rect x="163" y="304.50" width="1" height="3.50" fill="#000080"/>
<rect x="171" y="304.50" width="1" height="3.50" fill="#000080"/>
<rect x="179" y="305.00" width="1" height="3.00" fill="#000080"/>
<rect x="187" y="305.00" width="1" height="3.00" fill="#000080"/>
<rect x="195" y="304.25" width="1" height="3.75" fill="#000080"/>
<rect x="203" y="304.50" width="1" height="3.50" fill="#000080"/>
<rect x="211" y="304.75" width="1" height="3.25" fill="#000080"/>
<rect x="219" y="304.00" width="1" height="4.00" fill="#000080"/>
<rect x="235" y="307" width="1" height="2.75" fill="#000080"/>
<rect x="243" y="307" width="1" height="5.00" fill="#000080"/>
<rect x="251" y="307" width="1" height="7.75" fill="#000080"/>
<rect x="259" y="307" width="1" height="6.50" fill="#000080"/>
<rect x="267" y="307" width="1" height="5.50" fill="#000080"/>
<rect x="275" y="307" width="1" height="4.00" fill="#000080"/>
<rect x="283" y="307" width="1" height="4.60" fill="#000080"/>
<rect x="291" y="307" width="1" height="2.75" fill="#000080"/>
<rect x="299" y="307" width="1" height="1.50" fill="#000080"/>
<rect x="307" y="307.00" width="1" height="1.00" fill="#000080"/>
<rect x="331" y="306.00" width="1" height="2.00" fill="#000080"/>
<rect x="339" y="306.00" width="1" height="2.00" fill="#000080"/>
<rect x="347" y="306.00" width="1" height="2.00" fill="#000080"/>
<rect x="355" y="306.00" width="1" height="2.00" fill="#000080"/>
<rect x="363" y="305.00" width="1" height="3.00" fill="#000080"/>
<rect x="371" y="305.75" width="1" height="2.25" fill="#000080"/>
<rect x="379" y="304.25" width="1" height="3.75" fill="#000080"/>
<rect x="387" y="304.25" width="1" height="3.75" fill="#000080"/>
<rect x="395" y="302.00" width="1" height="6.00" fill="#000080"/>
<rect x="403" y="302.00" width="1" height="6.00" fill="#000080"/>
<rect x="411" y="302.00" width="1" height="6.00" fill="#000080"/>
<rect x="419" y="302.00" width="1" height="6.00" fill="#000080"/>
<rect x="427" y="302.00" width="1" height="6.00" fill="#000080"/>
<rect x="435" y="300.00" width="1" height="8.00" fill="#000080"/>
<rect x="443" y="298.00" width="1" height="10.00" fill="#000080"/>
<rect x="451" y="295.00" width="1" height="13.00" fill="#000080"/>
<rect x="459" y="293.00" width="1" height="15.00" fill="#000080"/>
<rect x="467" y="290.75" width="1" height="17.25" fill="#000080"/>
<rect x="475" y="289.90" width="1" height="18.10" fill="#000080"/>
<rect x="483" y="288.00" width="1" height="20.00" fill="#000080"/>
<rect x="491" y="287.00" width="1" height="21.00" fill="#000080"/>
<rect x="499" y="286.10" width="1" height="21.90" fill="#000080"/>
<rect x="507" y="284.00" width="1" height="24.00" fill="#000080"/>
<rect x="515" y="284.00" width="1" height="24.00" fill="#000080"/>
<rect x="523" y="284.00" width="1" height="24.00" fill="#000080"/>
<rect x="531" y="284.90" width="1" height="23.10" fill="#000080"/>
<rect x="539" y="285.50" width="1" height="22.50" fill="#000080"/>
<rect x="547" y="288.00" width="1" height="20.00" fill="#000080"/>
<rect x="555" y="289.90" width="1" height="18.10" fill="#000080"/>
<rect x="563" y="290.75" width="1" height="17.25" fill="#000080"/>
<rect x="571" y="293.00" width="1" height="15.00" fill="#000080"/>
<rect x="579" y="294.00" width="1" height="14.00" fill="#000080"/>
<rect x="587" y="296.10" width="1" height="11.90" fill="#000080"/>
<rect x="595" y="297.00" width="1" height="11.00" fill="#000080"/>
<rect x="603" y="296.75" width="1" height="11.25" fill="#000080"/>
<rect x="611" y="296.75" width="1" height="11.25" fill="#000080"/>
<rect x="619" y="297.80" width="1" height="10.20" fill="#000080"/>
<rect x="627" y="297.80" width="1" height="10.20" fill="#000080"/>
<rect x="635" y="299.75" width="1" height="8.25" fill="#000080"/>
<rect x="643" y="299.75" width="1" height="8.25" fill="#000080"/>
<rect x="651" y="300.80" width="1" height="7.20" fill="#000080"/>
<rect x="659" y="305.00" width="1" height="3.00" fill="#000080"/>
<rect x="675" y="306.80" width="1" height="1.20" fill="#000080"/>
<rect x="699" y="306.80" width="1" height="1.20" fill="#000080"/>
<path d="M58 293.5h2M490 293.5h2M610 293.5h2M64 295.5h2M627 295.5h3M633 295.5h3M249 307.5h3M255 307.5h3M351 307.5h3M357 307.5h2M75 299.5h3M459 299.5h3M664 299.5h2M669 299.5h3M105 305.5h3M159 305.5h3M231 305.5h3M237 305.5h3M375 305.5h3M381 305.5h3M387 305.5h3M705 305.5h2M112 306.5h2M117 306.5h3M123 306.5h3M129 306.5h3M135 306.5h3M141 306.5h3M147 306.5h3M153 306.5h2M243 306.5h3M363 306.5h3M369 306.5h3M99 304.5h3M165 304.5h3M171 304.5h3M177 304.5h3M183 304.5h3M189 304.5h3M195 304.5h3M201 304.5h3M207 304.5h3M213 304.5h3M219 304.5h3M225 304.5h3M393 304.5h3M399 304.5h3M405 304.5h2M699 304.5h3M33 286.5h3M531 286.5h3M561 286.5h3M567 286.5h3M573 286.5h3M3 280.5h3M69 297.5h3M471 297.5h3M477 297.5h2M651 297.5h3M447 300.5h3M453 300.5h2M675 300.5h3M9 281.5h3M273 309.5h3M327 309.5h3M333 309.5h3M339 309.5h3M616 294.5h2M621 294.5h3M82 301.5h2M435 301.5h3M441 301.5h3M681 301.5h3M261 308.5h3M267 308.5h3M345 308.5h3M280 310.5h2M321 310.5h3M93 303.5h3M411 303.5h3M417 303.5h3M693 303.5h3M27 285.5h3M537 285.5h3M543 285.5h3M549 285.5h3M555 285.5h3M39 287.5h3M519 287.5h3M525 287.5h2M579 287.5h3M513 288.5h3M21 283.5h3M483 296.5h2M639 296.5h3M645 296.5h3M87 302.5h3M423 302.5h3M429 302.5h3M687 302.5h3M286 311.5h2M303 311.5h3M309 311.5h3M315 311.5h3M465 298.5h3M657 298.5h3M291 312.5h3M297 312.5h3M45 289.5h3M507 289.5h3M586 289.5h2M495 292.5h2M51 291.5h3M603 291.5h3M501 290.5h3M592 290.5h2M597 290.5h3M16 282.5h2M455.5 299v1M479.5 296v1M57.5 292v1M489.5 294v1M615.5 293v1M111.5 305v1M609.5 292v1M155.5 305v1M527.5 286v1M591.5 289v1M359.5 306v1M407.5 303v1M285.5 310v1M81.5 300v1M585.5 288v1M497.5 291v1M15.5 281v1M279.5 309v1M485.5 295v1M663.5 298v1M63.5 294v1" fill="none" stroke="#ff0000" stroke-width="1"/>
</g>
<clipPath id="cmo"><rect x="3" y="320" width="757" height="62"/></clipPath>
<g clip-path="url(#cmo)">
<path d="M193 358.5h2M216 358.5h2M236 358.5h2M213 357.5h3M101 369.5h64M67 364.5h9M181 364.5h4M211 356.5h2M36 365.5h2M177 365.5h4M22 354.5h2M62 361.5h2M189 361.5h2M240 361.5h2M218 359.5h2M41 362.5h2M222 362.5h2M98 367.5h2M169 367.5h4M39 363.5h2M65 363.5h2M185 363.5h3M165 368.5h4M60 360.5h2M173 366.5h4M7 347.5h2M14 347.5h2M58.5 358v1M52.5 351v1M88.5 356v1M53.5 352v1M87.5 354v2M3.5 351v1M9.5 346v1M28.5 359v1M13.5 346v1M24.5 355v1M81.5 352v2M82.5 350v2M54.5 353v1M199.5 352v2M100.5 368v1M197.5 355v1M198.5 354v1M43.5 361v1M30.5 361v1M44.5 359v2M25.5 356v1M79.5 356v2M18.5 350v1M35.5 366v1M235.5 357v1M86.5 353v1M238.5 359v1M210.5 355v1M31.5 362v1M78.5 358v2M80.5 354v2M221.5 361v1M231.5 361v2M50.5 351v2M206.5 351v1M27.5 358v1M90.5 358v2M77.5 360v2M243.5 363v1M16.5 348v1M33.5 364v1M76.5 362v2M202.5 349v1M203.5 348v1M84.5 350v2M208.5 353v1M29.5 360v1M97.5 366v1M204.5 349v1M47.5 355v2M188.5 362v1M93.5 362v1M192.5 359v1M205.5 350v1M224.5 363v1M19.5 351v1M191.5 360v1M196.5 356v1M94.5 363v1M242.5 362v1M234.5 358v1M32.5 363v1M20.5 352v1M95.5 364v1M207.5 352v1M55.5 354v2M89.5 357v1M230.5 363v1M232.5 360v1M91.5 360v1M248.5 368v1M228.5 365v1M229.5 364v1M244.5 364v1M21.5 353v1M227.5 366v1M56.5 356v1M17.5 349v1M34.5 365v1M83.5 349v1M92.5 361v1M245.5 365v1M209.5 354v1M200.5 351v1M201.5 350v1M46.5 357v1M48.5 354v1M57.5 357v1M49.5 353v1M6.5 348v1M64.5 362v1M45.5 358v1M5.5 349v1M10.5 345v1M11.5 344v1M246.5 366v1M239.5 360v1M195.5 357v1M233.5 359v1M12.5 345v1M38.5 364v1M247.5 367v1M225.5 364v1M4.5 350v1M59.5 359v1M226.5 365v1M96.5 365v1M51.5 350v1M85.5 352v1M220.5 360v1M26.5 357v1" fill="none" stroke="#000080" stroke-width="1"/>
<path d="M431 335.5h2M441 335.5h3M552 335.5h8M602 335.5h2M633 356.5h2M639 356.5h6M265 361.5h3M303 361.5h6M338 361.5h12M361 361.5h19M455 329.5h15M534 329.5h4M282 367.5h3M675 367.5h2M566 338.5h2M591 338.5h6M309 360.5h4M320 360.5h5M336 360.5h2M279 368.5h3M677 368.5h3M427 333.5h2M482 333.5h5M545 333.5h2M290 364.5h3M503 324.5h8M517 324.5h3M701 371.5h4M313 359.5h7M325 359.5h4M333 359.5h3M650 359.5h2M429 334.5h2M444 334.5h2M547 334.5h5M495 328.5h2M530 328.5h4M259 363.5h2M293 363.5h4M354 363.5h3M577 339.5h14M277 369.5h2M680 369.5h2M569 340.5h2M573 340.5h4M433 336.5h2M437 336.5h4M560 336.5h4M599 336.5h3M659 378.5h5M499 325.5h4M520 325.5h2M401 341.5h2M404 341.5h2M571 341.5h2M275 370.5h2M682 370.5h2M705 370.5h2M285 366.5h2M413 345.5h2M447 332.5h2M478 332.5h4M487 332.5h5M543 332.5h2M261 362.5h4M297 362.5h6M350 362.5h4M357 362.5h4M451 330.5h4M470 330.5h4M538 330.5h3M394 346.5h2M411 346.5h2M611 346.5h5M635 357.5h4M645 357.5h3M397 344.5h2M408 344.5h2M415 344.5h3M449 331.5h2M474 331.5h4M541 331.5h2M511 323.5h6M329 358.5h4M648 358.5h2M392 347.5h2M616 347.5h4M435 337.5h2M564 337.5h2M597 337.5h2M664 379.5h4M287 365.5h3M522 326.5h4M388 349.5h2M622 349.5h2M630 354.5h2M625 351.5h2M390 348.5h2M620 348.5h2M526 327.5h4M697 373.5h2M693 376.5h2M628 353.5h2M699 372.5h2M418 343.5h2M387.5 350v1M604.5 336v2M654.5 365v3M386.5 351v2M669.5 376v1M494.5 329v1M655.5 368v2M425.5 335v2M610.5 344v2M659.5 377v1M686.5 373v1M271.5 365v2M446.5 333v1M406.5 342v1M421.5 340v2M653.5 363v2M607.5 340v2M656.5 370v3M257.5 365v1M258.5 364v1M274.5 369v1M407.5 343v1M684.5 371v1M624.5 350v1M256.5 366v1M608.5 342v1M690.5 377v1M657.5 373v2M671.5 373v1M673.5 370v1M672.5 371v2M674.5 368v2M609.5 343v1M255.5 367v1M692.5 377v1M668.5 377v2M396.5 345v1M670.5 374v2M426.5 334v1M253.5 369v1M652.5 361v2M691.5 378v1M658.5 375v2M400.5 342v1M272.5 367v1M422.5 339v1M687.5 374v1M273.5 368v1M380.5 359v2M382.5 357v1M383.5 355v2M385.5 353v1M688.5 375v1M268.5 362v1M381.5 358v1M689.5 376v1M498.5 326v1M269.5 363v1M493.5 330v1M685.5 372v1M254.5 368v1M270.5 364v1M492.5 331v1M497.5 327v1M695.5 375v1M399.5 343v1M696.5 374v1M651.5 360v1M605.5 338v1M403.5 340v1M632.5 355v1M384.5 354v1M410.5 345v1M606.5 339v1M627.5 352v1M424.5 337v1M568.5 339v1M420.5 342v1M423.5 338v1" fill="none" stroke="#000080" stroke-width="1"/>
<path d="M4 360.5h3M10 360.5h3M16 360.5h3M22 360.5h3M28 360.5h3M34 360.5h3M40 360.5h3M46 360.5h3M52 360.5h3M58 360.5h3M64 360.5h3M70 360.5h3M76 360.5h3M82 360.5h3M88 360.5h3M94 360.5h3M100 360.5h3M106 360.5h3M112 360.5h3M118 360.5h3M124 360.5h3M130 360.5h3M136 360.5h3M142 360.5h3M148 360.5h3M154 360.5h3M160 360.5h3M166 360.5h3M172 360.5h3M178 360.5h3M184 360.5h3M190 360.5h3M196 360.5h3M202 360.5h3M208 360.5h3M214 360.5h3M220 360.5h3M226 360.5h3M232 360.5h3M238 360.5h3M244 360.5h3M250 360.5h3M256 360.5h3M262 360.5h3M268 360.5h3M274 360.5h3M280 360.5h3M286 360.5h3M292 360.5h3M298 360.5h3M304 360.5h3M310 360.5h3M316 360.5h3M322 360.5h3M328 360.5h3M334 360.5h3M340 360.5h3M346 360.5h3M352 360.5h3M358 360.5h3M364 360.5h3M370 360.5h3M376 360.5h3M382 360.5h3M388 360.5h3M394 360.5h3M400 360.5h3M406 360.5h3M412 360.5h3M418 360.5h3M424 360.5h3M430 360.5h3M436 360.5h3M442 360.5h3M448 360.5h3M454 360.5h3M460 360.5h3M466 360.5h3M472 360.5h3M478 360.5h3M484 360.5h3M490 360.5h3M496 360.5h3M502 360.5h3M508 360.5h3M514 360.5h3M520 360.5h3M526 360.5h3M532 360.5h3M538 360.5h3M544 360.5h3M550 360.5h3M556 360.5h3M562 360.5h3M568 360.5h3M574 360.5h3M580 360.5h3M586 360.5h3M592 360.5h3M598 360.5h3M604 360.5h3M610 360.5h3M616 360.5h3M622 360.5h3M628 360.5h3M634 360.5h3M640 360.5h3M646 360.5h3M652 360.5h3M658 360.5h3M664 360.5h3M670 360.5h3M676 360.5h3M682 360.5h3M688 360.5h3M694 360.5h3M700 360.5h3M706 360.5h3M712 360.5h3M718 360.5h3M724 360.5h3M730 360.5h3M736 360.5h3M742 360.5h3M748 360.5h3M754 360.5h3" fill="none" stroke="#c0c0c0" stroke-width="1"/>
</g>
<rect x="2.5" y="2.5" width="758" height="228" fill="none" stroke="#000" stroke-width="1"/>
<rect x="2.5" y="232.5" width="758" height="43" fill="none" stroke="#000" stroke-width="1"/>
<rect x="2.5" y="277.5" width="758" height="40" fill="none" stroke="#000" stroke-width="1"/>
<rect x="2.5" y="319.5" width="758" height="63" fill="none" stroke="#000" stroke-width="1"/>
<rect x="761" y="36" width="3" height="1" fill="#000"/>
<text x="766" y="39" fill="#000" stroke="#000" stroke-width="0.1" font-size="10" textLength="28" lengthAdjust="spacingAndGlyphs">1.3160</text>
<rect x="761" y="111" width="3" height="1" fill="#000"/>
<text x="766" y="114" fill="#000" stroke="#000" stroke-width="0.1" font-size="10" textLength="28" lengthAdjust="spacingAndGlyphs">1.3090</text>
<rect x="761" y="149" width="3" height="1" fill="#000"/>
<text x="766" y="152" fill="#000" stroke="#000" stroke-width="0.1" font-size="10" textLength="28" lengthAdjust="spacingAndGlyphs">1.3055</text>
<rect x="761" y="186" width="3" height="1" fill="#000"/>
<text x="766" y="189" fill="#000" stroke="#000" stroke-width="0.1" font-size="10" textLength="28" lengthAdjust="spacingAndGlyphs">1.3020</text>
<rect x="761" y="224" width="3" height="1" fill="#000"/>
<text x="766" y="227" fill="#000" stroke="#000" stroke-width="0.1" font-size="10" textLength="28" lengthAdjust="spacingAndGlyphs">1.2985</text>
<rect x="762" y="70" width="36" height="11" fill="#000"/>
<text x="766" y="79" fill="#fff" stroke="#fff" stroke-width="0.1" font-size="10" textLength="28" lengthAdjust="spacingAndGlyphs">1.3123</text>
<rect x="761" y="234" width="2" height="1" fill="#000"/>
<rect x="761" y="274" width="2" height="1" fill="#000"/>
<rect x="761" y="279" width="2" height="1" fill="#000"/>
<rect x="761" y="307" width="2" height="1" fill="#000"/>
<rect x="761" y="316" width="2" height="1" fill="#000"/>
<rect x="761" y="321" width="2" height="1" fill="#000"/>
<text x="764" y="243" fill="#000" stroke="#000" stroke-width="0.1" font-size="10" textLength="15" lengthAdjust="spacingAndGlyphs">100</text>
<text x="764" y="249" fill="#000" stroke="#000" stroke-width="0.1" font-size="10" textLength="9" lengthAdjust="spacingAndGlyphs">70</text>
<text x="764" y="264.5" fill="#000" stroke="#000" stroke-width="0.1" font-size="10" textLength="9" lengthAdjust="spacingAndGlyphs">30</text>
<text x="764" y="271.5" fill="#000" stroke="#000" stroke-width="0.1" font-size="10" textLength="5" lengthAdjust="spacingAndGlyphs">0</text>
<text x="764" y="288" fill="#000" stroke="#000" stroke-width="0.1" font-size="10" textLength="27" lengthAdjust="spacingAndGlyphs">0.0031</text>
<text x="764" y="308" fill="#000" stroke="#000" stroke-width="0.1" font-size="10" textLength="18" lengthAdjust="spacingAndGlyphs">0.00</text>
<text x="764" y="314" fill="#000" stroke="#000" stroke-width="0.1" font-size="10" textLength="25" lengthAdjust="spacingAndGlyphs">-0.001</text>
<text x="764" y="332" fill="#000" stroke="#000" stroke-width="0.1" font-size="10" textLength="36" lengthAdjust="spacingAndGlyphs">100.8484</text>
<text x="764" y="363" fill="#000" stroke="#000" stroke-width="0.1" font-size="10" textLength="15" lengthAdjust="spacingAndGlyphs">100</text>
<text x="764" y="379" fill="#000" stroke="#000" stroke-width="0.1" font-size="10" textLength="33" lengthAdjust="spacingAndGlyphs">99.5372</text>
<rect x="3" y="383" width="1" height="3" fill="#000"/>
<text x="2.5" y="395" fill="#000" stroke="#000" stroke-width="0.1" font-size="10" textLength="46" lengthAdjust="spacingAndGlyphs">12 Jul 2013</text>
<rect x="67" y="383" width="1" height="3" fill="#000"/>
<text x="66.5" y="395" fill="#000" stroke="#000" stroke-width="0.1" font-size="10" textLength="49" lengthAdjust="spacingAndGlyphs">12 Jul 15:00</text>
<rect x="131" y="383" width="1" height="3" fill="#000"/>
<text x="130.5" y="395" fill="#000" stroke="#000" stroke-width="0.1" font-size="10" textLength="49" lengthAdjust="spacingAndGlyphs">12 Jul 23:00</text>
<rect x="195" y="383" width="1" height="3" fill="#000"/>
<text x="194.5" y="395" fill="#000" stroke="#000" stroke-width="0.1" font-size="10" textLength="49" lengthAdjust="spacingAndGlyphs">15 Jul 07:00</text>
<rect x="259" y="383" width="1" height="3" fill="#000"/>
<text x="258.5" y="395" fill="#000" stroke="#000" stroke-width="0.1" font-size="10" textLength="49" lengthAdjust="spacingAndGlyphs">15 Jul 15:00</text>
<rect x="323" y="383" width="1" height="3" fill="#000"/>
<text x="322.5" y="395" fill="#000" stroke="#000" stroke-width="0.1" font-size="10" textLength="49" lengthAdjust="spacingAndGlyphs">15 Jul 23:00</text>
<rect x="387" y="383" width="1" height="3" fill="#000"/>
<text x="386.5" y="395" fill="#000" stroke="#000" stroke-width="0.1" font-size="10" textLength="49" lengthAdjust="spacingAndGlyphs">16 Jul 07:00</text>
<rect x="451" y="383" width="1" height="3" fill="#000"/>
<text x="450.5" y="395" fill="#000" stroke="#000" stroke-width="0.1" font-size="10" textLength="49" lengthAdjust="spacingAndGlyphs">16 Jul 15:00</text>
<rect x="515" y="383" width="1" height="3" fill="#000"/>
<text x="514.5" y="395" fill="#000" stroke="#000" stroke-width="0.1" font-size="10" textLength="49" lengthAdjust="spacingAndGlyphs">16 Jul 23:00</text>
<rect x="579" y="383" width="1" height="3" fill="#000"/>
<text x="578.5" y="395" fill="#000" stroke="#000" stroke-width="0.1" font-size="10" textLength="49" lengthAdjust="spacingAndGlyphs">17 Jul 07:00</text>
<rect x="643" y="383" width="1" height="3" fill="#000"/>
<text x="642.5" y="395" fill="#000" stroke="#000" stroke-width="0.1" font-size="10" textLength="49" lengthAdjust="spacingAndGlyphs">17 Jul 15:00</text>
<rect x="707" y="383" width="1" height="3" fill="#000"/>
<text x="706.5" y="395" fill="#000" stroke="#000" stroke-width="0.1" font-size="10" textLength="49" lengthAdjust="spacingAndGlyphs">17 Jul 23:00</text>
<path d="M5.5 9 L13.5 9 L9.5 13.5 Z" fill="#000"/>
<text x="19" y="14" fill="#000" stroke="#000" stroke-width="0.1" font-size="10" textLength="52" lengthAdjust="spacingAndGlyphs">EURUSD,H1</text>
<text x="78.5" y="14" fill="#000" stroke="#000" stroke-width="0.1" font-size="10" textLength="27" lengthAdjust="spacingAndGlyphs">1.3119</text>
<text x="110" y="14" fill="#000" stroke="#000" stroke-width="0.1" font-size="10" textLength="27" lengthAdjust="spacingAndGlyphs">1.3125</text>
<text x="140.5" y="14" fill="#000" stroke="#000" stroke-width="0.1" font-size="10" textLength="27" lengthAdjust="spacingAndGlyphs">1.3118</text>
<text x="171.5" y="14" fill="#000" stroke="#000" stroke-width="0.1" font-size="10" textLength="27" lengthAdjust="spacingAndGlyphs">1.3123</text>
<text x="7.5" y="245" fill="#000" stroke="#000" stroke-width="0.1" font-size="10" textLength="67" lengthAdjust="spacingAndGlyphs">RSI(14) 49.0362</text>
<text x="7.5" y="290" fill="#000" stroke="#000" stroke-width="0.1" font-size="10" textLength="140" lengthAdjust="spacingAndGlyphs">MACD(12,26,9) -0.00008 0.00026</text>
<text x="7.5" y="332" fill="#000" stroke="#000" stroke-width="0.1" font-size="10" textLength="98" lengthAdjust="spacingAndGlyphs">Momentum(22) 99.7947</text>
</svg>
</svg></body></html>
